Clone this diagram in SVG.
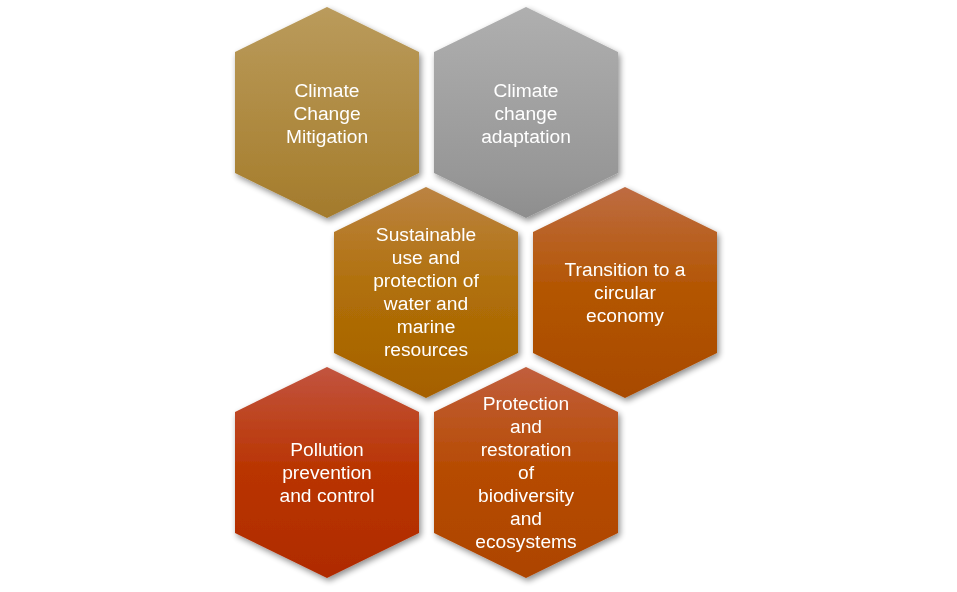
<svg xmlns="http://www.w3.org/2000/svg" width="957" height="592" viewBox="0 0 957 592">
<defs>
<filter id="sh" x="-10%" y="-10%" width="125%" height="125%">
<feGaussianBlur in="SourceAlpha" stdDeviation="3"/>
<feOffset dx="1.5" dy="2.5" result="b"/>
<feComponentTransfer><feFuncA type="linear" slope="0.45"/></feComponentTransfer>
<feMerge><feMergeNode/><feMergeNode in="SourceGraphic"/></feMerge>
</filter>
<linearGradient id="g1" x1="0" y1="0" x2="0" y2="1">
<stop offset="0" stop-color="#BA9B5C"/><stop offset="0.8" stop-color="#A98234"/><stop offset="1" stop-color="#A37A2C"/>
</linearGradient>
<linearGradient id="g2" x1="0" y1="0" x2="0" y2="1">
<stop offset="0" stop-color="#AFAFAF"/><stop offset="0.8" stop-color="#979797"/><stop offset="1" stop-color="#8E8E8E"/>
</linearGradient>
<linearGradient id="g3" x1="0" y1="0" x2="0" y2="1">
<stop offset="0" stop-color="#BB8342"/><stop offset="0.5" stop-color="#B06F08"/><stop offset="1" stop-color="#A56000"/>
</linearGradient>
<linearGradient id="g4" x1="0" y1="0" x2="0" y2="1">
<stop offset="0" stop-color="#BE6C42"/><stop offset="0.5" stop-color="#B35500"/><stop offset="1" stop-color="#A84A00"/>
</linearGradient>
<linearGradient id="g5" x1="0" y1="0" x2="0" y2="1">
<stop offset="0" stop-color="#C2543F"/><stop offset="0.5" stop-color="#B93400"/><stop offset="1" stop-color="#AF2B00"/>
</linearGradient>
<linearGradient id="g6" x1="0" y1="0" x2="0" y2="1">
<stop offset="0" stop-color="#C15E3D"/><stop offset="0.5" stop-color="#B64B00"/><stop offset="1" stop-color="#AD4400"/>
</linearGradient>
<polygon id="hex" points="0,-105.5 92,-60.5 92,60.5 0,105.5 -92,60.5 -92,-60.5"/>
</defs>
<style>
.t{font-family:"Liberation Sans",Arial,sans-serif;font-size:19.2px;fill:#FFFFFF;text-anchor:middle}
</style>
<rect width="957" height="592" fill="#FFFFFF"/>
<g id="connectors"/>
<g id="n1" filter="url(#sh)">
<use href="#hex" x="327" y="112.5" fill="url(#g1)"/>
<text class="t"><tspan x="327" y="97">Climate</tspan><tspan x="327" y="120">Change</tspan><tspan x="327" y="143">Mitigation</tspan></text>
</g>
<g id="n2" filter="url(#sh)">
<use href="#hex" x="526" y="112.5" fill="url(#g2)"/>
<text class="t"><tspan x="526" y="97">Climate</tspan><tspan x="526" y="120">change</tspan><tspan x="526" y="143">adaptation</tspan></text>
</g>
<g id="n3" filter="url(#sh)">
<use href="#hex" x="426" y="292.5" fill="url(#g3)"/>
<text class="t"><tspan x="426" y="241">Sustainable</tspan><tspan x="426" y="264">use and</tspan><tspan x="426" y="287">protection of</tspan><tspan x="426" y="310">water and</tspan><tspan x="426" y="333">marine</tspan><tspan x="426" y="356">resources</tspan></text>
</g>
<g id="n4" filter="url(#sh)">
<use href="#hex" x="625" y="292.5" fill="url(#g4)"/>
<text class="t"><tspan x="625" y="276">Transition to a</tspan><tspan x="625" y="299">circular</tspan><tspan x="625" y="322">economy</tspan></text>
</g>
<g id="n5" filter="url(#sh)">
<use href="#hex" x="327" y="472.5" fill="url(#g5)"/>
<text class="t"><tspan x="327" y="456">Pollution</tspan><tspan x="327" y="479">prevention</tspan><tspan x="327" y="502">and control</tspan></text>
</g>
<g id="n6" filter="url(#sh)">
<use href="#hex" x="526" y="472.5" fill="url(#g6)"/>
<text class="t"><tspan x="526" y="410">Protection</tspan><tspan x="526" y="433">and</tspan><tspan x="526" y="456">restoration</tspan><tspan x="526" y="479">of</tspan><tspan x="526" y="502">biodiversity</tspan><tspan x="526" y="525">and</tspan><tspan x="526" y="548">ecosystems</tspan></text>
</g>
</svg>
